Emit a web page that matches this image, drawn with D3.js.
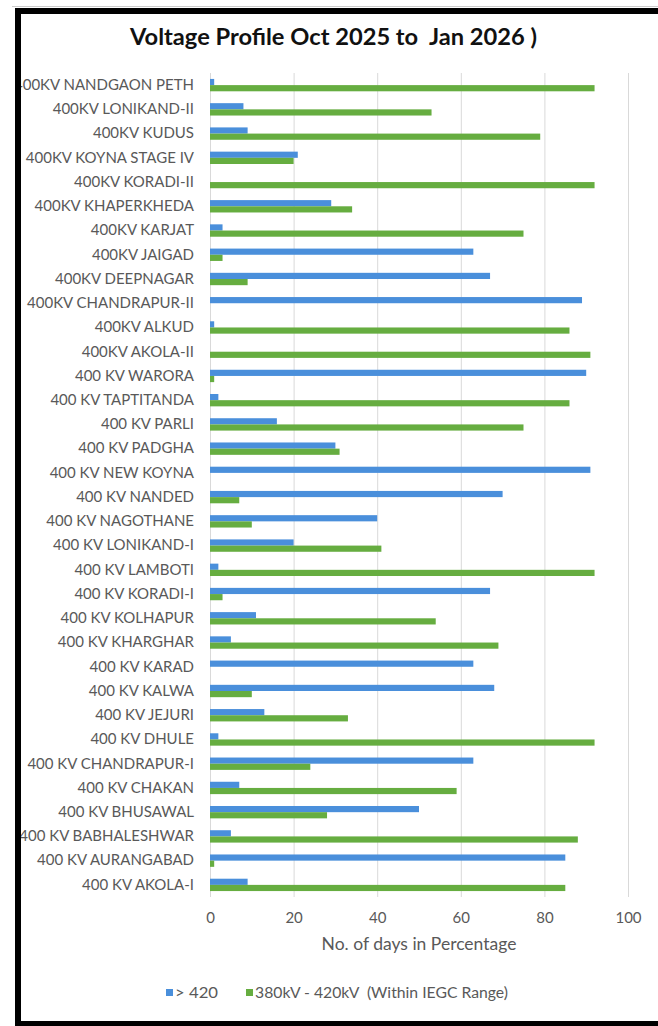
<!DOCTYPE html>
<html><head><meta charset="utf-8">
<script src="https://cdn.jsdelivr.net/npm/d3@7"></script>
<style>body{margin:0;background:#fff} svg{display:block}</style>
</head><body><svg id="c" width="658" height="1026"></svg>
<script>
const categories = ["400KV NANDGAON PETH","400KV LONIKAND-II","400KV KUDUS","400KV KOYNA STAGE IV","400KV KORADI-II","400KV KHAPERKHEDA","400KV KARJAT","400KV JAIGAD","400KV DEEPNAGAR","400KV CHANDRAPUR-II","400KV ALKUD","400KV AKOLA-II","400 KV WARORA","400 KV TAPTITANDA","400 KV PARLI","400 KV PADGHA","400 KV NEW KOYNA","400 KV NANDED","400 KV NAGOTHANE","400 KV LONIKAND-I","400 KV LAMBOTI","400 KV KORADI-I","400 KV KOLHAPUR","400 KV KHARGHAR","400 KV KARAD","400 KV KALWA","400 KV JEJURI","400 KV DHULE","400 KV CHANDRAPUR-I","400 KV CHAKAN","400 KV BHUSAWAL","400 KV BABHALESHWAR","400 KV AURANGABAD","400 KV AKOLA-I"];
const above420 = [1,8,9,21,0,29,3,63,67,89,1,0,90,2,16,30,91,70,40,20,2,67,11,5,63,68,13,2,63,7,50,5,85,9];
const within380_420 = [92,53,79,20,92,34,75,3,9,0,86,91,1,86,75,31,0,7,10,41,92,3,54,69,0,10,33,92,24,59,28,88,1,85];
const xTicks = [0,20,40,60,80,100];
const seriesNames = ["> 420","380kV - 420kV  (Within IEGC Range)"];
const seriesColors = ["#4a8fdb","#66ad40"];
const titleText = "Voltage Profile Oct 2025 to  Jan 2026 )";
const xTitle = "No. of days in Percentage";

const svg = d3.select("#c");
const L = 210, R = 628, T = 73, B = 897;
const font = "Lato, 'Open Sans', sans-serif";
const grey = "#595959";

const x = d3.scaleLinear().domain([0,100]).range([L,R]);
const y = d3.scaleBand().domain(categories).range([T,B]).padding(0);
const bw = y.bandwidth();
const ys = d3.scaleBand().domain([0,1]).range([bw*0.245, bw*0.755]);

// gridlines
svg.append("g").attr("transform",`translate(0,${B})`)
  .call(d3.axisBottom(x).tickValues(xTicks).tickSize(-(B-T)).tickFormat(""))
  .call(g=>g.select(".domain").remove())
  .call(g=>g.selectAll("line").attr("stroke","#d9d9d9").attr("stroke-width",1));

// bars
const rows = categories.map((c,i)=>({c, v:[above420[i], within380_420[i]]}));
const gr = svg.append("g").selectAll("g").data(rows).join("g")
  .attr("transform",d=>`translate(0,${y(d.c)})`);
gr.selectAll("rect").data(d=>d.v.map((v,k)=>({v,k}))).join("rect")
  .attr("x",x(0)).attr("y",d=>ys(d.k)).attr("height",ys.bandwidth())
  .attr("width",d=>x(d.v)-x(0)).attr("fill",d=>seriesColors[d.k]);

// y labels
svg.append("g").attr("transform",`translate(${L},0)`)
  .call(d3.axisLeft(y).tickSize(0).tickPadding(16))
  .call(g=>g.select(".domain").remove())
  .call(g=>g.selectAll("text").attr("fill",grey).style("font-family",font).style("font-size","15px"));

// x tick labels
svg.append("g").attr("transform",`translate(0,${B})`)
  .call(d3.axisBottom(x).tickValues(xTicks).tickSize(0).tickPadding(15))
  .call(g=>g.select(".domain").remove())
  .call(g=>g.selectAll("text").attr("fill",grey).style("font-family",font).style("font-size","15px"));

// x title
svg.append("text").attr("x",(L+R)/2).attr("y",950).attr("text-anchor","middle")
  .attr("fill",grey).style("font-family",font).style("font-size","17.5px").text(xTitle);

// legend
const leg = [{x:166,tx:175,w:43},{x:246,tx:255,w:253}];
seriesNames.forEach((n,i)=>{
  svg.append("rect").attr("x",leg[i].x).attr("y",989).attr("width",7).attr("height",7).attr("fill",seriesColors[i]);
  svg.append("text").attr("x",leg[i].tx).attr("y",998).attr("fill",grey)
    .attr("textLength",leg[i].w).attr("lengthAdjust","spacingAndGlyphs")
    .style("font-family",font).style("font-size","15.5px").style("white-space","pre").text(n);
});

// title
svg.append("text").attr("x",130).attr("y",45)
  .attr("textLength",407).attr("lengthAdjust","spacingAndGlyphs")
  .attr("fill","#111").style("font-family",font).style("font-weight","700").style("font-size","23px")
  .style("white-space","pre").text(titleText);

// frame
svg.append("rect").attr("x",0).attr("y",0).attr("width",15).attr("height",1026).attr("fill","#fff");
svg.append("line").attr("x1",12).attr("x2",658).attr("y1",6.5).attr("y2",6.5).attr("stroke","#ccc");
svg.append("rect").attr("x",15).attr("y",8).attr("width",6).attr("height",1018).attr("fill","#000");
svg.append("rect").attr("x",15).attr("y",8).attr("width",643).attr("height",6).attr("fill","#000");
svg.append("rect").attr("x",15).attr("y",1021).attr("width",643).attr("height",5).attr("fill","#000");
</script></body></html>
